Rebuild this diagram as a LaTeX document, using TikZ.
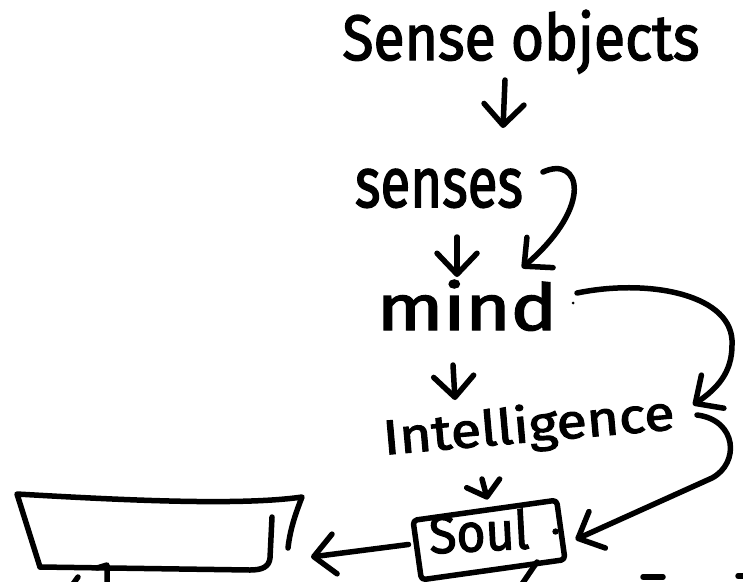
\documentclass[tikz,border=0pt]{standalone}
\usepackage{fontspec}
\setmainfont{Fira Sans}
\newfontfamily\inkfont{Fira Sans}[FakeBold=2.2]
\usetikzlibrary{arrows.meta,calc}

% a word squeezed into a given width and height (in pt)
\newcommand{\handword}[3]{\resizebox{#1pt}{#2pt}{#3}}

\begin{document}
\begin{tikzpicture}[x=1pt,y=-1pt,
  ink/.style={line width=5.5pt,line cap=round,line join=round},
  flow/.style={ink,-{Straight Barb[length=21pt,width=40pt,round]}},
  shortflow/.style={ink,-{Straight Barb[length=14pt,width=34pt,round]}},
  word/.style={inner sep=0pt,anchor=base,font=\inkfont},
]
\fill[white] (0,0) rectangle (743,581);
\useasboundingbox (0,0) rectangle (743,581);

% the chain of labels
\node[word] (objects) at (521,60) {\handword{357}{50}{Sense objects}};
\node[word] (senses) at (439,207) {\handword{168}{38}{senses}};
\node[word] (mind) at (467,330) {\handword{180}{50}{mind}};
\node[word,rotate=5] (intel) at (530,442) {\handword{292}{38}{Intelligence}};
\node[ink,draw,rounded corners=4pt,minimum width=145pt,minimum height=60pt,rotate=8] (soulbox) at (489,540) {};
\node[word,rotate=3] (soul) at (480,551) {\handword{100}{40}{Soul}};
\fill ($(soulbox.east)+(-8,2)$) circle (3.2pt);
\fill ($(mind.base)+(106,-27)$) circle (1.5pt);

% straight steps down the chain
\draw[flow] ($(objects.base)+(-16,20)$) -- ($(senses.base)+(64,-79)$);
\draw[flow] ($(senses.base)+(18,30)$) -- ($(mind.base)+(-10,-53)$);
\draw[flow] ($(mind.base)+(-14,35)$) -- ($(mind.base)+(-12,70)$);
\draw[shortflow] ($(intel.base)+(-48,37)$) -- ($(soulbox.north)+(3,-8)$);

% looping arrows on the right
\draw[flow] ($(senses.base)+(104,-35)$) .. controls +(37,-17) and +(73,-63) .. ($(mind.base)+(55,-62)$);
\draw[flow] ($(mind.base)+(110,-37)$) .. controls +(73,-15) and +(3,-50) .. ($(mind.base)+(265,15)$)
  .. controls +(0,27) and +(25,-17) .. ($(intel.base)+(163,-37)$);
\draw[flow] ($(intel.base)+(167,-27)$) .. controls +(40,5) and +(28,-15) .. ($(intel.base)+(182,36)$)
  -- ($(soulbox.east)+(12,10)$);

% the open box on the left
\coordinate (screenport) at (311,557);
\draw[flow] ($(soulbox.west)+(-6,-6)$) -- (screenport);
\draw[ink] (40,567) -- (17,494) .. controls (120,500) and (240,506) .. (302,497)
  .. controls (295,515) and (290,530) .. (288,548);
\draw[ink] (272,517) -- (270,558) .. controls (269,567) and (262,570) .. (250,570) -- (40,567);

% strokes running off the lower edge
\draw[ink] (97,568) -- (107,565) -- (107,584);
\draw[ink] (78,577) -- (73,584);
\draw[ink] (537,562) -- (522,584);
\draw[ink] (643,577) -- (663,577);
\draw[ink] (738,576) -- (746,576);
\end{tikzpicture}
\end{document}
